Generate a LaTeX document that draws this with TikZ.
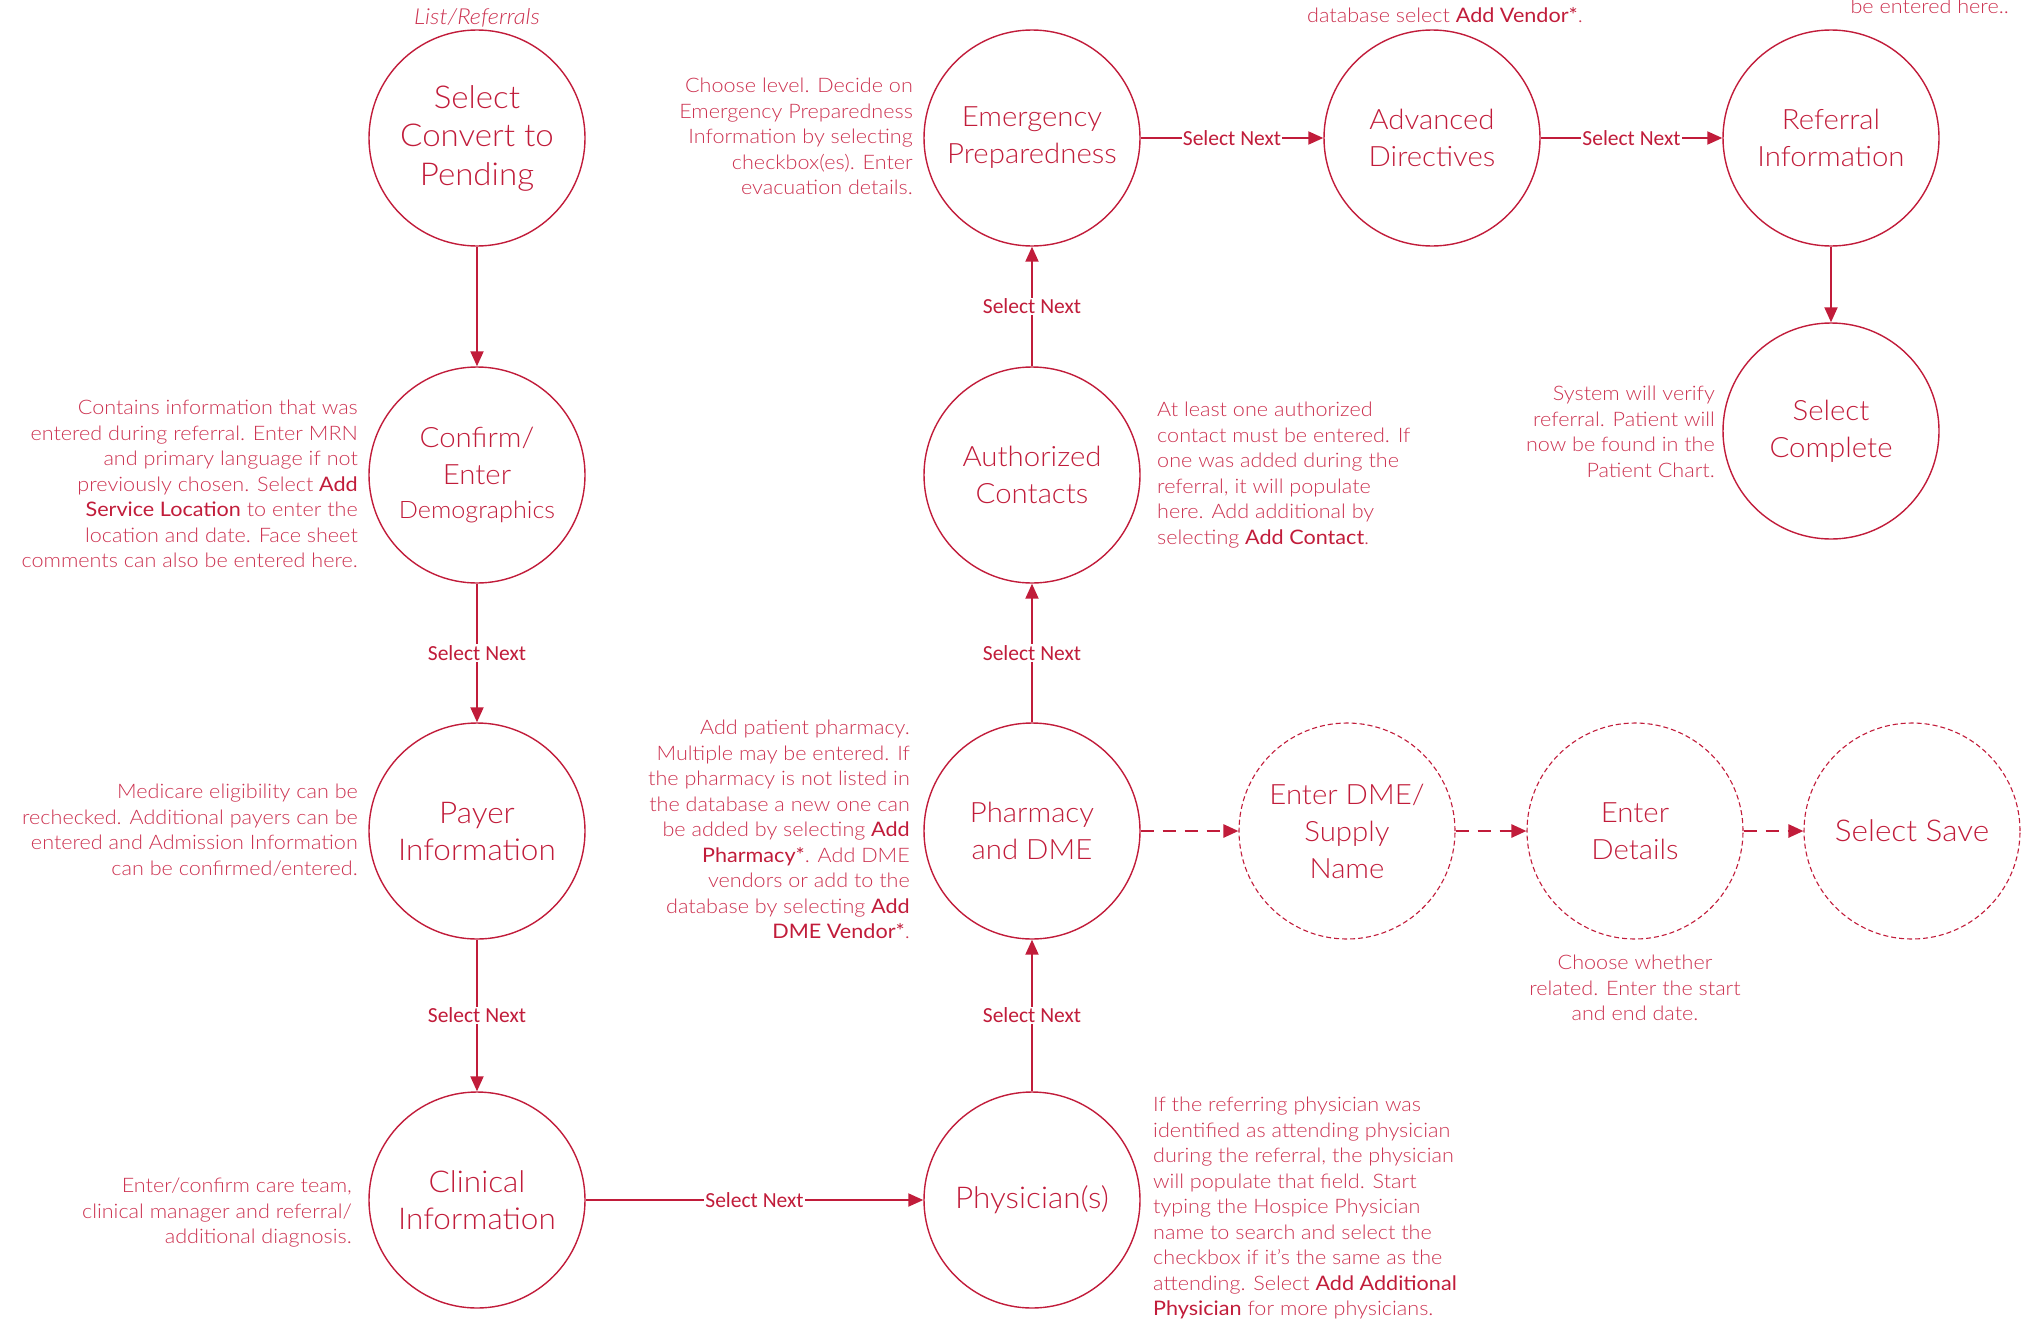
\documentclass[tikz,border=0pt]{standalone}
\usepackage{fontspec}
\usetikzlibrary{arrows.meta}

% light face for step names and notes, regular weight for the highlighted UI terms
\IfFontExistsTF{Lato Light}
  {\newfontfamily\thinfont{Lato Light}[BoldFont={Lato}, FakeStretch=1.08]
   \newfontfamily\stepfont{Lato Light}[FakeStretch=1.05]}
  {\newfontfamily\thinfont{Liberation Sans}
   \newfontfamily\stepfont{Liberation Sans}}
\newfontfamily\nextfont{Carlito}

\definecolor{ink}{RGB}{193,28,58}
\definecolor{soft}{RGB}{204,50,80}
\newcommand{\ui}[1]{{\bfseries\color{ink}#1}}

\tikzset{
  stepnode/.style={circle, draw=ink, line width=1.4pt, minimum size=216pt,
    inner sep=0pt, align=center, text=ink,
    font=\stepfont\fontsize{28}{37}\selectfont},
  bigstep/.style={font=\stepfont\fontsize{30}{37}\selectfont},
  optnode/.style={stepnode, dash pattern=on 5pt off 3pt, line width=1.1pt},
  flow/.style={draw=ink, line width=2pt, -{Triangle[length=15pt,width=13pt]}},
  optflow/.style={flow, line width=2.5pt, dash pattern=on 13pt off 9pt},
  nextlbl/.style={fill=white, inner sep=1pt, text=ink,
    font=\nextfont\fontsize{21.5}{24}\selectfont},
  note/.style={inner sep=0pt, text=soft,
    font=\thinfont\fontsize{20}{25.5}\selectfont},
}

\begin{document}
\begin{tikzpicture}[x=1pt,y=-1pt]
\useasboundingbox (0,0) rectangle (2023,1320);

% ---- steps ----
\node[stepnode, font=\stepfont\fontsize{31.5}{38.5}\selectfont] (convert) at (477,138) {Select\\Convert to\\Pending};
\node[stepnode] (demo)     at (477,475)  {Confirm/\\Enter\\[-3pt]{\fontsize{24}{30}\selectfont Demographics}};
\node[stepnode, bigstep] (payer)    at (477,831)  {Payer\\Information};
\node[stepnode, bigstep] (clinical) at (477,1200) {Clinical\\Information};
\node[stepnode, bigstep] (phys)     at (1032,1200) {Physician(s)};
\node[stepnode] (pharm)    at (1032,831) {Pharmacy\\and DME};
\node[stepnode] (contacts) at (1032,475) {Authorized\\Contacts};
\node[stepnode] (emerg)    at (1032,138) {Emergency\\Preparedness};
\node[stepnode] (advdir)   at (1432,138) {Advanced\\Directives};
\node[stepnode] (refinfo)  at (1831,138) {Referral\\Information};
\node[stepnode] (complete) at (1831,431) {Select\\Complete};

% ---- optional DME branch ----
\node[optnode] (dmename) at (1347,831) {Enter DME/\\Supply\\Name};
\node[optnode] (details) at (1635,831) {Enter\\Details};
\node[optnode, bigstep] (save) at (1912,831) {Select Save};

% ---- connectors ----
\draw[flow] (convert) -- (demo);
\draw[flow] (demo) -- node[nextlbl] {Select Next} (payer);
\draw[flow] (payer) -- node[nextlbl] {Select Next} (clinical);
\draw[flow] (clinical) -- node[nextlbl] {Select Next} (phys);
\draw[flow] (phys) -- node[nextlbl] {Select Next} (pharm);
\draw[flow] (pharm) -- node[nextlbl] {Select Next} (contacts);
\draw[flow] (contacts) -- node[nextlbl] {Select Next} (emerg);
\draw[flow] (emerg) -- node[nextlbl] {Select Next} (advdir);
\draw[flow] (advdir) -- node[nextlbl] {Select Next} (refinfo);
\draw[flow] (refinfo) -- (complete);

\draw[optflow] (pharm) -- (dmename);
\draw[optflow] (dmename) -- (details);
\draw[optflow] (details) -- (save);

% ---- notes ----
\node[note, anchor=base, font=\thinfont\itshape\fontsize{22}{24}\selectfont] (listref) at (477,24) {List/Referrals};

\node[note, anchor=north east, align=right] (demonote) at (358,400)
  {Contains information that was\\
   entered during referral. Enter MRN\\
   and primary language if not\\
   previously chosen. Select \ui{Add}\\
   \ui{Service Location} to enter the\\
   location and date. Face sheet\\
   comments can also be entered here.};

\node[note, anchor=north east, align=right] (payernote) at (358,784)
  {Medicare eligibility can be\\
   rechecked. Additional payers can be\\
   entered and Admission Information\\
   can be confirmed/entered.};

\node[note, anchor=north east, align=right] (clinnote) at (352,1178)
  {Enter/confirm care team,\\
   clinical manager and referral/\\
   additional diagnosis.};

\node[note, anchor=north east, align=right] (emergnote) at (913,78)
  {Choose level. Decide on\\
   Emergency Preparedness\\
   Information by selecting\\
   checkbox(es). Enter\\
   evacuation details.};

\node[note, anchor=north west, align=left] (contnote) at (1157,402)
  {At least one authorized\\
   contact must be entered. If\\
   one was added during the\\
   referral, it will populate\\
   here. Add additional by\\
   selecting \ui{Add Contact}.};

\node[note, anchor=north east, align=right] (pharmnote) at (910,720)
  {Add patient pharmacy.\\
   Multiple may be entered. If\\
   the pharmacy is not listed in\\
   the database a new one can\\
   be added by selecting \ui{Add}\\
   \ui{Pharmacy*}. Add DME\\
   vendors or add to the\\
   database by selecting \ui{Add}\\
   \ui{DME Vendor*}.};

\node[note, anchor=north west, align=left] (physnote) at (1153,1097)
  {If the referring physician was\\
   identified as attending physician\\
   during the referral, the physician\\
   will populate that field. Start\\
   typing the Hospice Physician\\
   name to search and select the\\
   checkbox if it’s the same as the\\
   attending. Select \ui{Add Additional}\\
   \ui{Physician} for more physicians.};

\node[note, anchor=north east, align=right] (compnote) at (1715,386)
  {System will verify\\
   referral. Patient will\\
   now be found in the\\
   Patient Chart.};

\node[note, anchor=north, align=center] (detnote) at (1635,955)
  {Choose whether\\
   related. Enter the start\\
   and end date.};

\node[note, anchor=base west] (vendnote) at (1307,22)
  {database select \ui{Add Vendor*}.};
\node[note, anchor=base east] (refnote) at (2009,13)
  {be entered here..};
\end{tikzpicture}
\end{document}
